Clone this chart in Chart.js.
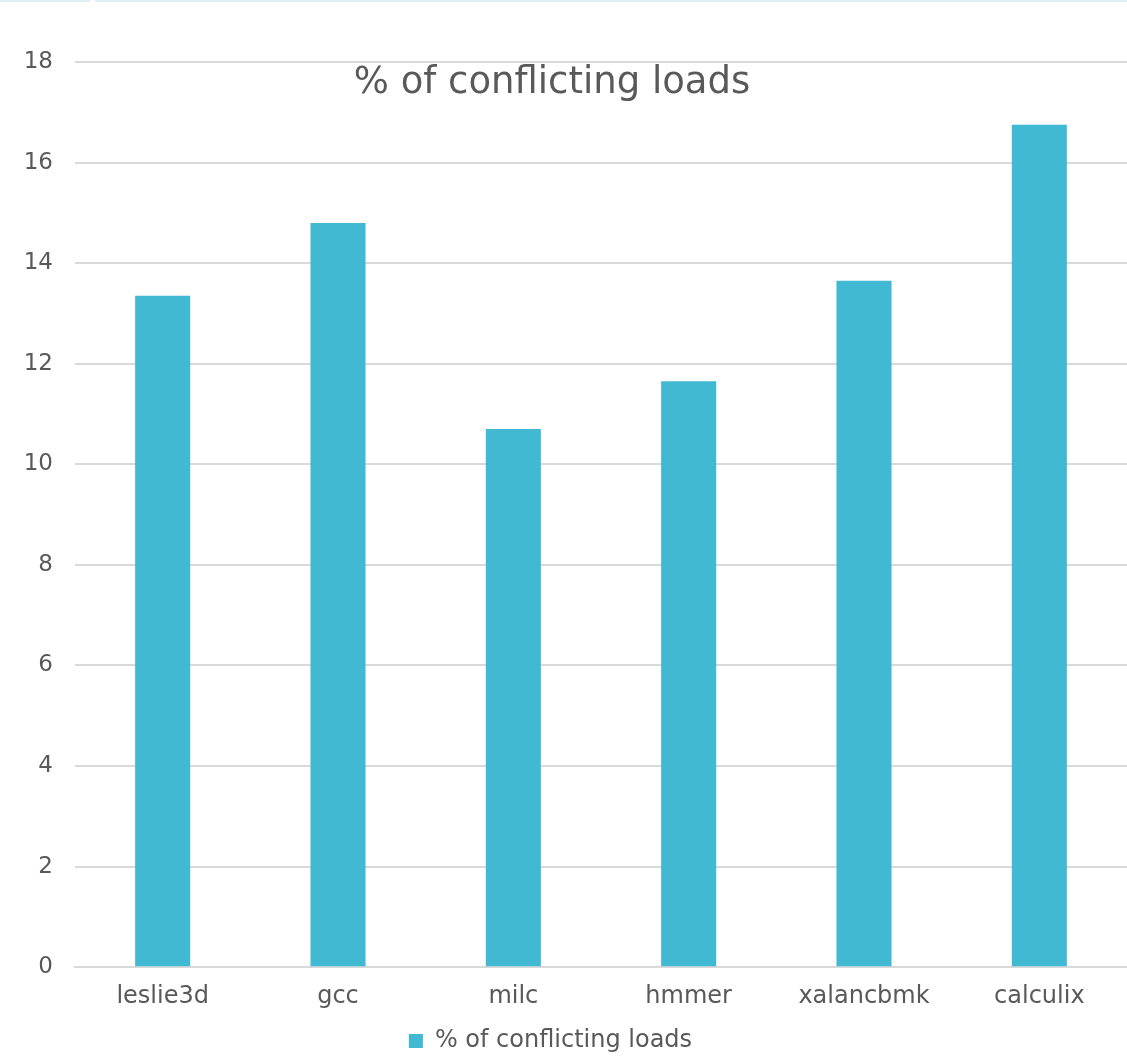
<!DOCTYPE html>
<html lang="en">
<head>
  <meta charset="UTF-8">
  <title>% of conflicting loads</title>
  <script src="https://cdn.jsdelivr.net/npm/chart.js"></script>
  <style>
    html, body { margin: 0; padding: 0; background: #fff; }
    .wrap { position: relative; width: 1127px; height: 1063px; }
    .edge-a { position: absolute; top: 0; left: 0; width: 90px; height: 2px; background: #dcf0f6; }
    .edge-b { position: absolute; top: 0; left: 95px; right: 0; height: 2px; background: #dcf0f6; }
  </style>
</head>
<body>
  <div class="wrap">
    <canvas id="chart" width="1127" height="1063"></canvas>
    <div class="edge-a"></div>
    <div class="edge-b"></div>
  </div>

  <script>
    const benchmarks = ['leslie3d', 'gcc', 'milc', 'hmmer', 'xalancbmk', 'calculix'];
    const conflictingLoads = [13.35, 14.8, 10.7, 11.65, 13.65, 16.75];
    const yTicks = [0, 2, 4, 6, 8, 10, 12, 14, 16, 18];

    const FONT = "'DejaVu Sans', Verdana, sans-serif";
    const TEXT = '#595959';

    // title sits inside the plot, over the top gridlines
    const titleInside = {
      id: 'titleInside',
      afterDraw(chart) {
        const ctx = chart.ctx;
        ctx.save();
        ctx.font = '37px ' + FONT;
        ctx.fillStyle = TEXT;
        ctx.textAlign = 'center';
        ctx.textBaseline = 'middle';
        ctx.fillText('% of conflicting loads', 552, 83);
        ctx.restore();
      }
    };

    // legend is centred a little left of the canvas middle
    const legendShift = {
      id: 'legendShift',
      afterLayout(chart) {
        chart.legend.left -= 13;
        chart.legend.right -= 13;
      }
    };

    new Chart(document.getElementById('chart').getContext('2d'), {
      type: 'bar',
      data: {
        labels: benchmarks,
        datasets: [{
          label: '% of conflicting loads',
          data: conflictingLoads,
          backgroundColor: '#41b9d3',
          categoryPercentage: 1,
          barPercentage: 0.314
        }]
      },
      options: {
        responsive: false,
        animation: false,
        layout: { padding: { top: 62, right: 0, bottom: 0, left: 0 } },
        plugins: {
          legend: {
            position: 'bottom',
            labels: {
              boxWidth: 14,
              boxHeight: 14,
              padding: 3,
              color: TEXT,
              font: { family: FONT, size: 24 }
            }
          },
          title: { display: false },
          tooltip: { enabled: false }
        },
        scales: {
          x: {
            grid: { display: false, drawTicks: false },
            border: { color: '#d9d9d9', width: 2 },
            ticks: { color: TEXT, padding: 15, font: { family: FONT, size: 24 } }
          },
          y: {
            min: 0,
            max: 18,
            afterBuildTicks(axis) {
              axis.ticks = yTicks.map(v => ({ value: v }));
            },
            afterFit(axis) { axis.width = 75; },
            grid: { color: '#d9d9d9', lineWidth: 2, drawTicks: false },
            border: { display: false },
            ticks: { color: TEXT, padding: 22, font: { family: FONT, size: 23 } }
          }
        }
      },
      plugins: [titleInside, legendShift]
    });
  </script>
</body>
</html>
